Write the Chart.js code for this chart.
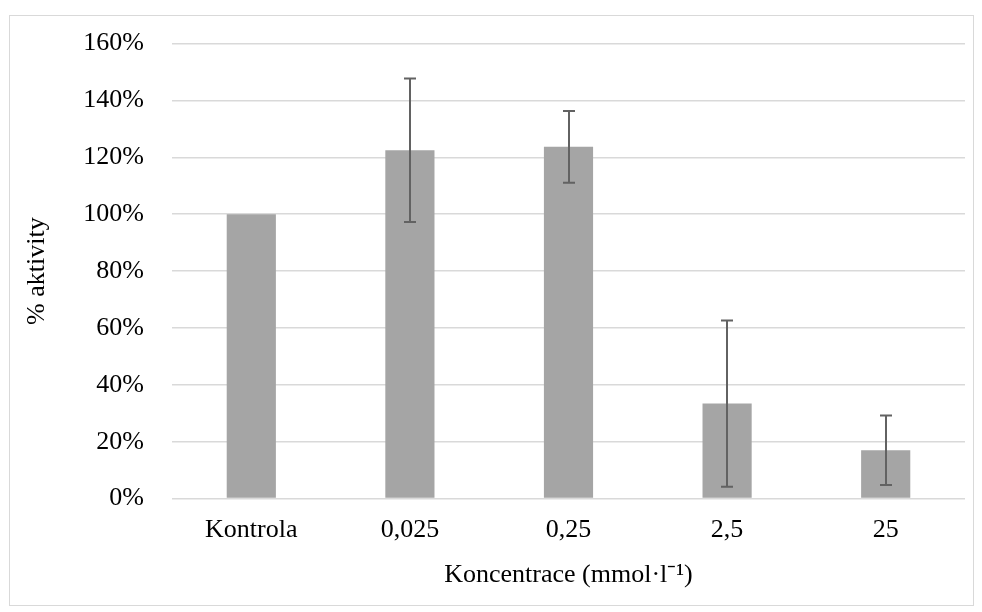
<!DOCTYPE html>
<html>
<head>
<meta charset="utf-8">
<script src="https://cdn.jsdelivr.net/npm/chart.js@4"></script>
<style>
  html, body { margin: 0; padding: 0; background: #fff; }
  #wrap { position: relative; width: 982px; height: 612px; }
  #frame { position: absolute; left: 9px; top: 15px; width: 963px; height: 589px; border: 1px solid #d9d9d9; pointer-events: none; }
</style>
</head>
<body>
<div id="wrap">
  <canvas id="activityChart" width="982" height="612"></canvas>
  <div id="frame"></div>
</div>
<script>
// Data
const categories = ["Kontrola", "0,025", "0,25", "2,5", "25"];
const activity = [100, 122.5, 123.7, 33.4, 17.0];
const errors = [0, 25.2, 12.6, 29.2, 12.2];
const yTicks = [0, 20, 40, 60, 80, 100, 120, 140, 160];

const serif = "'Liberation Serif', 'Times New Roman', serif";
const fontSize = 26;

// Error bars drawn from the y scale
const errorBarPlugin = {
  id: "errorBars",
  afterDatasetsDraw(chart) {
    const ctx = chart.ctx;
    const meta = chart.getDatasetMeta(0);
    const yScale = chart.scales.y;
    ctx.save();
    ctx.strokeStyle = "#626262";
    ctx.lineWidth = 2;
    meta.data.forEach((bar, i) => {
      if (!errors[i]) return;
      const x = Math.round(bar.x);
      const top = yScale.getPixelForValue(activity[i] + errors[i]);
      const bottom = yScale.getPixelForValue(activity[i] - errors[i]);
      ctx.beginPath();
      ctx.moveTo(x, top);
      ctx.lineTo(x, bottom);
      ctx.moveTo(x - 6, top);
      ctx.lineTo(x + 6, top);
      ctx.moveTo(x - 6, bottom);
      ctx.lineTo(x + 6, bottom);
      ctx.stroke();
    });
    ctx.restore();
  },
};

const ctx = document.getElementById("activityChart").getContext("2d");
const activityChart = new Chart(ctx, {
  type: "bar",
  data: {
    labels: categories,
    datasets: [
      {
        label: "% aktivity",
        data: activity,
        backgroundColor: "#a5a5a5",
        borderWidth: 0,
        categoryPercentage: 1,
        barPercentage: 0.31,
      },
    ],
  },
  options: {
    responsive: false,
    animation: false,
    layout: { padding: { left: 10, right: 17, top: 37, bottom: 21 } },
    plugins: {
      legend: { display: false },
      tooltip: { enabled: false },
    },
    scales: {
      x: {
        grid: { display: false },
        border: { display: false },
        ticks: { color: "#000", font: { family: serif, size: fontSize }, padding: 8 },
        title: {
          display: true,
          text: "Koncentrace (mmol·l⁻¹)",
          color: "#000",
          font: { family: serif, size: fontSize },
          padding: { top: 6, bottom: 0 },
        },
      },
      y: {
        min: 0,
        max: 160,
        afterBuildTicks: (scale) => {
          scale.ticks = yTicks.map((v) => ({ value: v }));
        },
        afterFit: (scale) => {
          scale.width = 162;
        },
        grid: { color: "#d9d9d9", lineWidth: 1.5, drawTicks: false },
        border: { display: false },
        ticks: {
          color: "#000",
          font: { family: serif, size: fontSize },
          padding: 28,
          callback: (v) => v + "%",
        },
        title: {
          display: true,
          text: "% aktivity",
          color: "#000",
          font: { family: serif, size: fontSize },
          padding: { top: 12, bottom: 0 },
        },
      },
    },
  },
  plugins: [errorBarPlugin],
});
</script>
</body>
</html>
